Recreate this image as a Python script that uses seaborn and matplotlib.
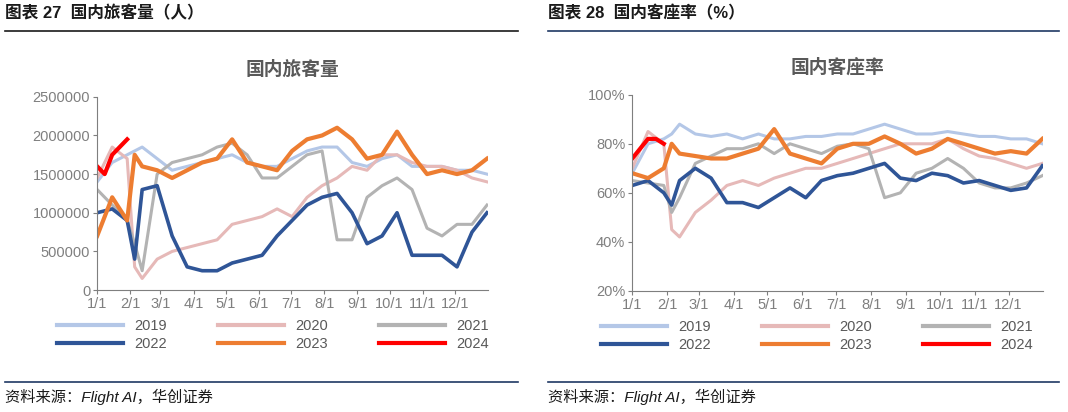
import matplotlib
matplotlib.use("Agg")
import matplotlib.pyplot as plt
import seaborn as sns
import pandas as pd
from matplotlib.lines import Line2D

plt.rcParams["font.family"] = ["Liberation Sans", "Noto Sans CJK SC"]

days = [0,14,28,35,42,56,70,84,98,112,126,140,154,168,182,196,210,224,238,252,266,280,294,308,322,336,350,364]
p2019 = [1.40,1.65,1.75,1.80,1.85,1.70,1.55,1.60,1.65,1.70,1.75,1.65,1.60,1.60,1.70,1.80,1.85,1.85,1.65,1.60,1.70,1.75,1.60,1.60,1.60,1.55,1.55,1.50]
p2020 = [1.45,1.85,1.70,0.30,0.15,0.40,0.50,0.55,0.60,0.65,0.85,0.90,0.95,1.05,0.95,1.20,1.35,1.45,1.60,1.55,1.75,1.75,1.65,1.60,1.60,1.55,1.45,1.40]
p2021 = [1.30,1.10,0.90,0.60,0.25,1.50,1.65,1.70,1.75,1.85,1.90,1.75,1.45,1.45,1.60,1.75,1.80,0.65,0.65,1.20,1.35,1.45,1.30,0.80,0.70,0.85,0.85,1.10]
p2022 = [1.00,1.05,0.90,0.40,1.30,1.35,0.70,0.30,0.25,0.25,0.35,0.40,0.45,0.70,0.90,1.10,1.20,1.25,1.00,0.60,0.70,1.00,0.45,0.45,0.45,0.30,0.75,1.00]
p2023 = [0.70,1.20,0.90,1.75,1.60,1.55,1.45,1.55,1.65,1.70,1.95,1.65,1.60,1.55,1.80,1.95,2.00,2.10,1.95,1.70,1.75,2.05,1.75,1.50,1.55,1.50,1.55,1.70]
d2024 = [0,7,14,21,28]
p2024 = [1.60,1.50,1.75,1.85,1.95]

r2019 = [68,80,82,84,88,84,83,84,82,84,82,82,83,83,84,84,86,88,86,84,84,85,84,83,83,82,82,80]
r2020 = [70,85,80,45,42,52,57,63,65,63,66,68,70,70,72,74,76,78,80,80,80,82,78,75,74,72,70,72]
r2021 = [65,64,63,52,58,72,75,78,78,80,76,80,78,76,79,80,78,58,60,68,70,74,70,64,62,62,64,67]
r2022 = [63,65,60,55,65,70,66,56,56,54,58,62,58,65,67,68,70,72,66,65,68,67,64,65,63,61,62,71]
r2023 = [68,66,70,80,76,75,74,74,76,78,86,76,74,72,78,80,80,83,80,76,78,82,80,78,76,77,76,82]
r2024 = [74,78,82,82,80]

years = ["2019","2020","2021","2022","2023","2024"]
colors = ["#b4c7e7","#e6b9b8","#b3b3b3","#2f5597","#ed7d31","#ff0000"]
widths = [2.2,2.2,2.2,2.6,3.0,3.0]
month_pos = [0,31,59,90,120,151,181,212,243,273,304,334]
month_lab = ["1/1","2/1","3/1","4/1","5/1","6/1","7/1","8/1","9/1","10/1","11/1","12/1"]

def frame(series, scale):
    rows = []
    for y, vals in zip(years[:5], series[:5]):
        for d, v in zip(days, vals):
            rows.append((d, v*scale, y))
    for d, v in zip(d2024, series[5]):
        rows.append((d, v*scale, "2024"))
    return pd.DataFrame(rows, columns=["day","value","year"])

fig = plt.figure(figsize=(10.68,4.12), dpi=100)
gray = "#595959"

def panel(rect, df, title, yticks, ylabels, ylim):
    ax = fig.add_axes(rect)
    for y, c, w in zip(years, colors, widths):
        sub = df[df.year == y]
        sns.lineplot(data=sub, x="day", y="value", color=c, lw=w, ax=ax, legend=False)
    ax.set_xlim(0, 365); ax.set_ylim(*ylim)
    ax.set_xticks(month_pos); ax.set_xticklabels(month_lab, fontsize=10.5, color=gray)
    ax.set_yticks(yticks); ax.set_yticklabels(ylabels, fontsize=10.5, color=gray)
    ax.set_xlabel(""); ax.set_ylabel("")
    for s in ["top","right"]: ax.spines[s].set_visible(False)
    for s in ["left","bottom"]: ax.spines[s].set_color("#7f7f7f")
    ax.tick_params(colors="#7f7f7f", length=3, direction="out", pad=2)
    ax.set_title(title, fontsize=13.5, fontweight="bold", color=gray, pad=16)
    order = [0,3,1,4,2,5]
    handles = [Line2D([], [], color=colors[i], lw=3) for i in order]
    labels = [years[i] for i in order]
    ax.legend(handles, labels, loc="upper center", bbox_to_anchor=(0.45, -0.08), ncol=3,
              frameon=False, fontsize=10.5, handlelength=4.5, columnspacing=3.5, labelspacing=0.3,
              labelcolor=gray)
    return ax

panel([0.091,0.296,0.366,0.469], frame([p2019,p2020,p2021,p2022,p2023,p2024],1e6), "国内旅客量",
      [0,500000,1000000,1500000,2000000,2500000],
      ["0","500000","1000000","1500000","2000000","2500000"], (0,2500000))
panel([0.592,0.294,0.385,0.476], frame([r2019,r2020,r2021,r2022,r2023,r2024],1), "国内客座率",
      [20,40,60,80,100], ["20%","40%","60%","80%","100%"], (20,100))

navy = "#1f3864"
fig.text(0.005, 0.955, "图表 27  国内旅客量（人）", fontsize=12, fontweight="bold", color="#1a1a1a")
fig.text(0.513, 0.955, "图表 28  国内客座率（%）", fontsize=12, fontweight="bold", color="#1a1a1a")
fig.add_artist(Line2D([0.005,0.485],[0.925,0.925], color="#1a1a1a", lw=1.2))
fig.add_artist(Line2D([0.513,0.992],[0.925,0.925], color=navy, lw=1.2))
fig.add_artist(Line2D([0.005,0.485],[0.072,0.072], color=navy, lw=1.2))
fig.add_artist(Line2D([0.513,0.992],[0.072,0.072], color=navy, lw=1.2))
fig.text(0.005, 0.025, "资料来源：Flight AI，华创证券", fontsize=11, style="italic", color="#1a1a1a")
fig.text(0.513, 0.025, "资料来源：Flight AI，华创证券", fontsize=11, style="italic", color="#1a1a1a")

fig.savefig("out.png", dpi=100)
